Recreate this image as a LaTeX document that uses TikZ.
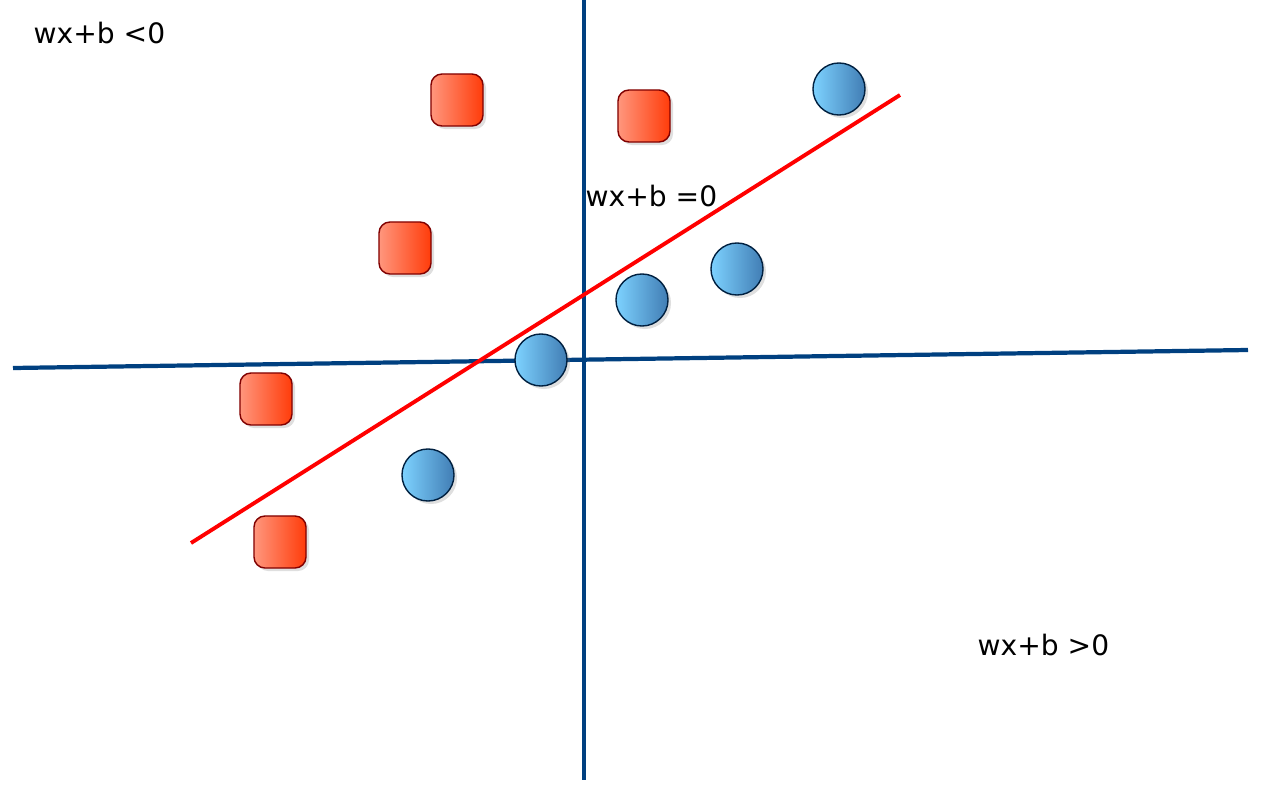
\documentclass[tikz,border=0pt]{standalone}
\usepackage{fontspec}
\setmainfont{DejaVu Sans}
\usetikzlibrary{shadows}

\definecolor{axisblue}{RGB}{0,64,128}
\definecolor{boxlight}{RGB}{255,150,125}
\definecolor{boxdark}{RGB}{255,60,10}
\definecolor{dotlight}{RGB}{125,210,255}
\definecolor{dotdark}{RGB}{65,125,180}

\tikzset{
  redbox/.style={draw=black!50!red, thin, rounded corners=1.1mm, minimum size=5.2mm,
    left color=boxlight, right color=boxdark,
    drop shadow={shadow xshift=0.3mm, shadow yshift=-0.3mm, opacity=0.25}},
  bluedot/.style={draw=black!50!axisblue, thin, circle, minimum size=5.2mm, inner sep=0pt,
    left color=dotlight, right color=dotdark,
    drop shadow={shadow xshift=0.3mm, shadow yshift=-0.3mm, opacity=0.25}},
  axisline/.style={axisblue, line width=1.2pt},
  label/.style={font=\fontsize{8}{10}\selectfont, inner sep=0pt, anchor=west}
}

\begin{document}
\begin{tikzpicture}[x=0.01cm,y=-0.01cm]
\useasboundingbox (0,0) rectangle (1266,800);

% axes
\coordinate (xl) at (13,368); \coordinate (xr) at (1248,350);
\coordinate (yt) at (584,0); \coordinate (yb) at (584,780);
\draw [axisline] (xl) -- (xr);
\draw [axisline] (yt) -- (yb);

% separating line
\coordinate (sl) at (191,543); \coordinate (su) at (900,95);
\draw [red, line width=1.1pt] (sl) -- (su);

% class -1
\node [redbox] (r1) at (457,100) {}; \node [redbox] (r2) at (644,116) {};
\node [redbox] (r3) at (405,248) {}; \node [redbox] (r4) at (266,399) {};
\node [redbox] (r5) at (280,542) {};

% class +1
\node [bluedot] (b1) at (839,89) {}; \node [bluedot] (b2) at (737,269) {};
\node [bluedot] (b3) at (642,300) {}; \node [bluedot] (b4) at (541,360) {};
\node [bluedot] (b5) at (428,475) {};

\node [label] (neg) at (33,33) {wx+b <0};
\node [label] (zero) at (585,196) {wx+b =0};
\node [label] (pos) at (977,645) {wx+b >0};

\end{tikzpicture}
\end{document}
